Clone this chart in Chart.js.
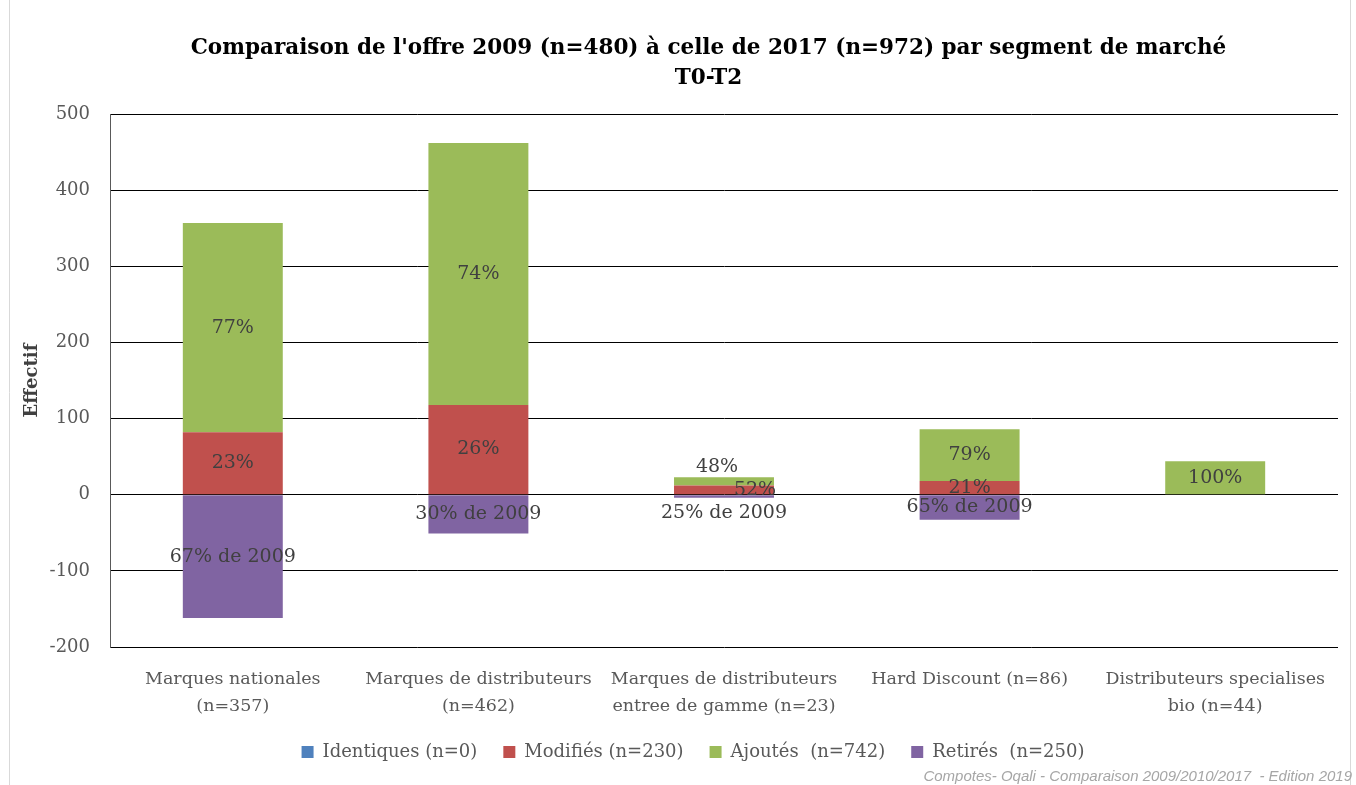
<!DOCTYPE html>
<html>
<head>
<meta charset="utf-8">
<script src="https://cdn.jsdelivr.net/npm/chart.js@4/dist/chart.umd.min.js"></script>
<style>
  body { margin: 0; background: #fff; }
  #wrap { width: 1356px; height: 785px; }
</style>
</head>
<body>
<div id="wrap"><canvas id="chart" width="1356" height="785"></canvas></div>
<script>
// categories (segments de marche)
const segments = [
  ['Marques nationales', '(n=357)'],
  ['Marques de distributeurs', '(n=462)'],
  ['Marques de distributeurs', 'entree de gamme (n=23)'],
  'Hard Discount (n=86)',
  ['Distributeurs specialises', 'bio (n=44)']
];

// series values
const identiques = [0, 0, 0, 0, 0];
const modifies = [82, 118, 12, 18, 0];
const ajoutes = [275, 344, 11, 68, 44];
const retires = [-162, -51, -4, -33, 0];

// labels shown on the bars
const modifiesLabels = ['23%', '26%', '52%', '21%', ''];
const ajoutesLabels = ['77%', '74%', '48%', '79%', '100%'];
const retiresLabels = ['67% de 2009', '30% de 2009', '25% de 2009', '65% de 2009', ''];

const serif = '"DejaVu Serif", serif';
const sans = '"Liberation Sans", sans-serif';

// small manual shifts for labels that Excel had moved (dataset index -> bar index -> [dx, dy])
const labelShift = {
  1: { 2: [31, 0] },
  2: { 2: [-7, -14] },
  3: { 2: [0, 17] }
};

const barLabels = {
  id: 'barLabels',
  afterDatasetsDraw(chart) {
    const ctx = chart.ctx;
    ctx.save();
    ctx.font = '19px ' + serif;
    ctx.fillStyle = '#404040';
    ctx.textAlign = 'center';
    ctx.textBaseline = 'middle';
    chart.data.datasets.forEach((ds, i) => {
      if (!ds.texts) return;
      const meta = chart.getDatasetMeta(i);
      meta.data.forEach((bar, j) => {
        const t = ds.texts[j];
        if (!t) return;
        let sh = (labelShift[i] && labelShift[i][j]) || [0, 0];
        ctx.fillText(t, bar.x + sh[0], (bar.y + bar.base) / 2 + sh[1]);
      });
    });
    ctx.restore();
  }
};

// le titre et la legende d'Excel sont un peu decales vers la droite
const nudge = {
  id: 'nudge',
  afterLayout(chart) {
    chart.titleBlock.left += 67;
    chart.legend.left += 36;
  }
};

const decor = {
  id: 'decor',
  afterDraw(chart) {
    const ctx = chart.ctx;
    ctx.save();
    // cadre du graphique
    ctx.strokeStyle = '#d9d9d9';
    ctx.lineWidth = 1;
    ctx.beginPath();
    ctx.moveTo(9.5, 0);
    ctx.lineTo(9.5, 785);
    ctx.moveTo(1350.5, 0);
    ctx.lineTo(1350.5, 785);
    ctx.stroke();
    // source
    ctx.font = 'italic 15px ' + sans;
    ctx.fillStyle = '#a6a6a6';
    ctx.textAlign = 'right';
    ctx.textBaseline = 'middle';
    ctx.fillText('Compotes- Oqali - Comparaison 2009/2010/2017  - Edition 2019', 1352, 777);
    ctx.restore();
  }
};

new Chart(document.getElementById('chart'), {
  type: 'bar',
  data: {
    labels: segments,
    datasets: [
      { label: 'Identiques (n=0)', data: identiques, backgroundColor: '#4f81bd' },
      { label: 'Modifiés (n=230)', data: modifies, backgroundColor: '#c0504d', texts: modifiesLabels },
      { label: 'Ajoutés  (n=742)', data: ajoutes, backgroundColor: '#9bbb59', texts: ajoutesLabels },
      { label: 'Retirés  (n=250)', data: retires, backgroundColor: '#8064a2', texts: retiresLabels }
    ]
  },
  options: {
    responsive: false,
    animation: false,
    devicePixelRatio: 1,
    layout: { padding: { left: 12, right: 18, top: 0, bottom: 14 } },
    datasets: { bar: { categoryPercentage: 1, barPercentage: 0.407 } },
    scales: {
      x: {
        stacked: true,
        grid: { display: false, drawTicks: false },
        border: { display: false },
        ticks: { color: '#595959', font: { family: serif, size: 17.5, lineHeight: 1.55 }, padding: 19, maxRotation: 0, autoSkip: false },
        afterFit(s) { s.height = 70; }
      },
      y: {
        stacked: true,
        min: -200,
        max: 500,
        grid: { color: '#000000', drawTicks: false },
        border: { display: true, color: '#595959', width: 1 },
        ticks: { stepSize: 100, color: '#595959', font: { family: serif, size: 18 }, padding: 20 },
        title: { display: true, text: 'Effectif', color: '#404040', font: { family: serif, size: 18, weight: 'bold' }, padding: { top: 10, bottom: 0 } },
        afterFit(s) { s.width = 98; }
      }
    },
    plugins: {
      title: {
        display: true,
        text: ["Comparaison de l'offre 2009 (n=480) à celle de 2017 (n=972) par segment de marché", 'T0-T2'],
        color: '#000000',
        font: { family: serif, size: 21.5, weight: 'bold', lineHeight: 1.42 },
        padding: { top: 33, bottom: 20 }
      },
      legend: {
        position: 'bottom',
        labels: { color: '#595959', font: { family: serif, size: 18 }, boxWidth: 12, boxHeight: 12, padding: 26 }
      },
      tooltip: { enabled: false }
    }
  },
  plugins: [barLabels, nudge, decor]
});
</script>
</body>
</html>
